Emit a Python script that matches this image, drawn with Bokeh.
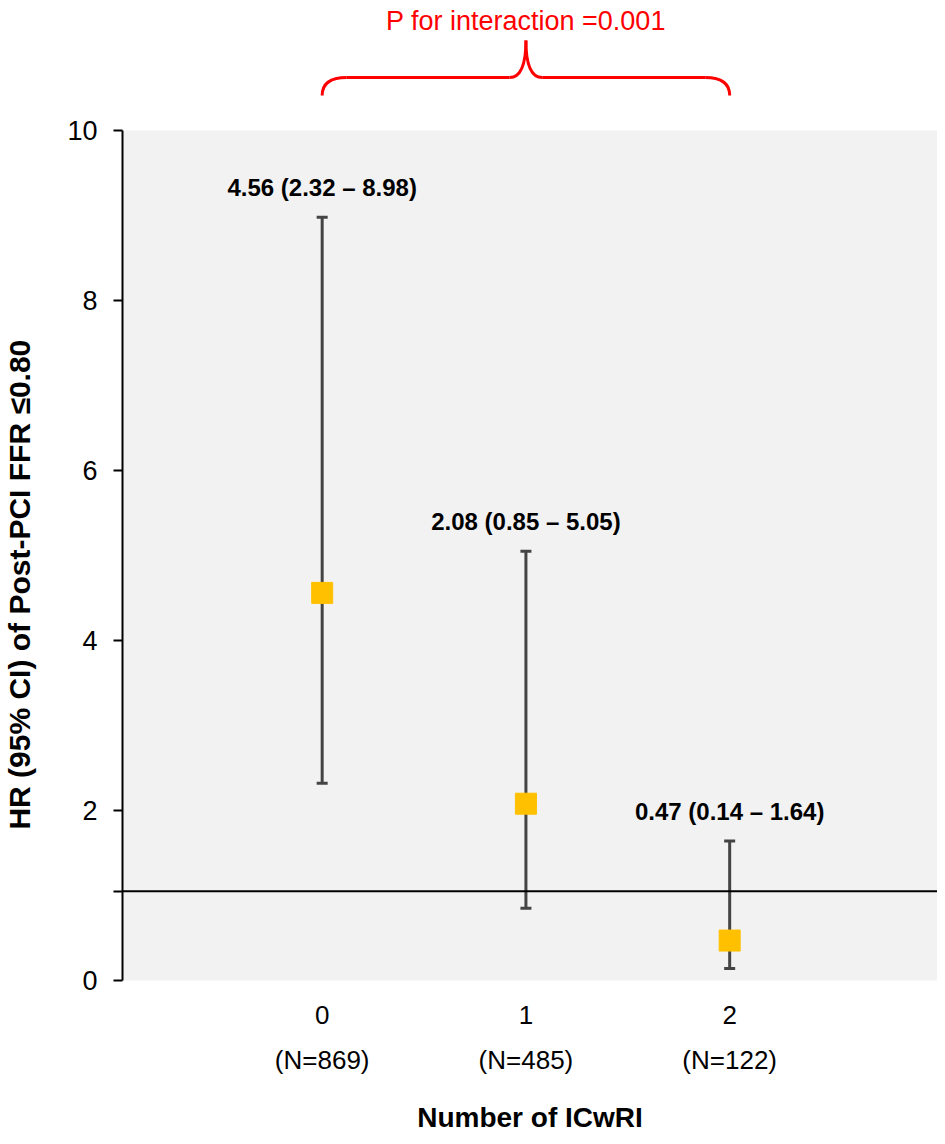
from bokeh.plotting import figure
from bokeh.models import Range1d, FixedTicker, Span, Whisker, TeeHead, ColumnDataSource
from bokeh.layouts import column
from bokeh.embed import file_html
from bokeh.resources import INLINE
from bokeh.core.properties import value

# ---- data ----
groups = [0, 1, 2]
group_n = ["(N=869)", "(N=485)", "(N=122)"]
hr = [4.56, 2.08, 0.47]
ci_low = [2.32, 0.85, 0.14]
ci_high = [8.98, 5.05, 1.64]
ref_line = 1.05
y_ticks = [0, 2, 4, 6, 8, 10]
p_text = "P for interaction =0.001"
x_title = "Number of ICwRI"
y_title = "HR (95% CI) of Post-PCI FFR \u22640.80"

FONT = "Liberation Sans"

labels = [f"{h:.2f} ({l:.2f} \u2013 {u:.2f})" for h, l, u in zip(hr, ci_low, ci_high)]
src = ColumnDataSource(dict(x=groups, hr=hr, lo=ci_low, hi=ci_high, lab=labels))

xr = Range1d(-0.98, 3.02)
W = 937
LEFT = 118
TOP_H = 110

# ---- top strip: p-value and brace ----
top = figure(width=W, height=TOP_H, x_range=xr, y_range=Range1d(TOP_H, 0),
             output_backend="svg", toolbar_location=None,
             min_border_left=LEFT, min_border_right=0, min_border_top=0, min_border_bottom=0)
top.axis.visible = False
top.grid.visible = False
top.outline_line_color = None
top.background_fill_color = "white"
red = "#ff0000"
top.text(x=[1.0], y=[20], text=[p_text], text_align="center", text_baseline="middle",
         text_font=value(FONT), text_font_size="27px", text_color=red)
x0, x1 = groups[0], groups[-1]
mid = (x0 + x1) / 2
bw = 0.12
bm = 0.08
yb, yh, yp = 95, 77, 40
top.quadratic(x0=[x0, x1], y0=[yb, yb], x1=[x0 + bw, x1 - bw], y1=[yh, yh],
              cx=[x0, x1], cy=[yh, yh], line_color=red, line_width=3)
top.segment(x0=[x0 + bw, mid + bm], y0=[yh, yh], x1=[mid - bm, x1 - bw], y1=[yh, yh],
            line_color=red, line_width=3)
top.quadratic(x0=[mid - bm, mid + bm], y0=[yh, yh], x1=[mid, mid], y1=[yp, yp],
              cx=[mid, mid], cy=[yh, yh], line_color=red, line_width=3)

# ---- main chart ----
p = figure(width=W, height=1028, x_range=xr, y_range=Range1d(0, 10),
           output_backend="svg", toolbar_location=None,
           min_border_left=LEFT, min_border_right=0, min_border_top=20, min_border_bottom=158)
p.background_fill_color = "#f2f2f2"
p.border_fill_color = "white"
p.outline_line_color = None
p.grid.visible = False

p.add_layout(Span(location=ref_line, dimension="width", line_color="black", line_width=2))

wh = Whisker(source=src, base="x", lower="lo", upper="hi", line_color="#444444", line_width=3,
             upper_head=TeeHead(size=11, line_color="#444444", line_width=3),
             lower_head=TeeHead(size=11, line_color="#444444", line_width=3))
p.add_layout(wh)
p.scatter(x="x", y="hr", source=src, marker="square", size=21, fill_color="#ffc000",
          line_color="#ffc000")
p.text(x="x", y="hi", text="lab", source=src, text_align="center", text_baseline="middle",
       y_offset=-30, text_font=value(FONT), text_font_size="24px", text_font_style="bold",
       text_color="black")

ya = p.yaxis[0]
ya.ticker = FixedTicker(ticks=y_ticks + [ref_line])
ya.major_label_overrides = {ref_line: ""}
ya.minor_tick_line_color = None
ya.major_tick_in = 0
ya.major_tick_out = 9
ya.axis_line_width = 2
ya.major_tick_line_width = 2
ya.major_label_standoff = 16
ya.major_label_text_font = FONT
ya.major_label_text_font_size = "27px"
ya.major_label_text_color = "black"
ya.axis_label = y_title + "\u00a0" * 7
ya.axis_label_text_font = FONT
ya.axis_label_text_font_size = "30px"
ya.axis_label_text_font_style = "bold"
ya.axis_label_text_color = "black"
ya.axis_label_standoff = 28

xa = p.xaxis[0]
xa.ticker = FixedTicker(ticks=groups)
xa.major_label_overrides = {g: f"{g}\n{n}" for g, n in zip(groups, group_n)}
xa.axis_line_color = None
xa.major_tick_line_color = None
xa.minor_tick_line_color = None
xa.major_label_standoff = 13
xa.major_label_text_font = FONT
xa.major_label_text_font_size = "26px"
xa.major_label_text_color = "black"
xa.major_label_text_line_height = 1.5
xa.axis_label = x_title
xa.axis_label_text_font = FONT
xa.axis_label_text_font_size = "28px"
xa.axis_label_text_font_style = "bold"
xa.axis_label_text_color = "black"
xa.axis_label_standoff = 24

layout = column(top, p, spacing=0)
open("out.html", "w").write(file_html(layout, INLINE))
